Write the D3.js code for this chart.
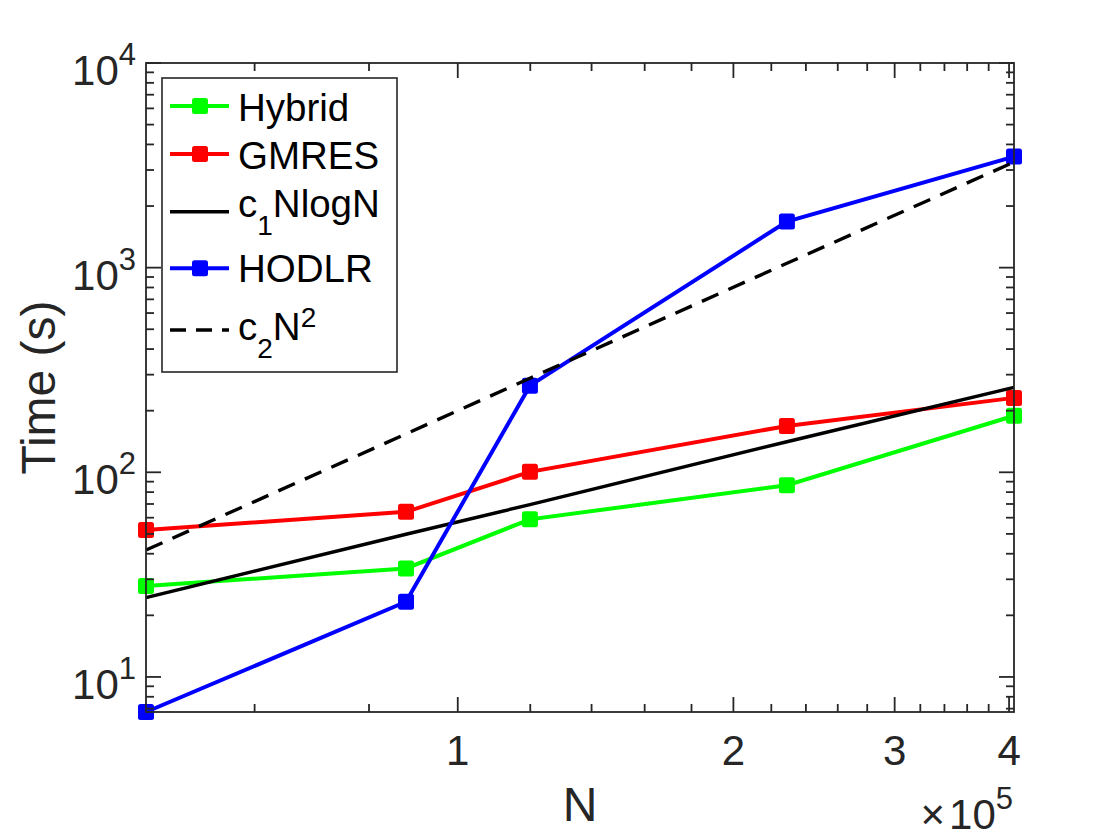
<!DOCTYPE html>
<html>
<head>
<meta charset="utf-8">
<style>
  body { margin: 0; background: #fff; }
  svg { display: block; font-family: "Liberation Sans", Arial, Helvetica, sans-serif; }
</style>
</head>
<body>
<svg id="chart" width="1120" height="840"></svg>
<script src="https://d3js.org/d3.v7.min.js"></script>
<script>
  // data
  const N      = [45660, 87800, 119900, 228800, 405000];
  const hybrid = [27.8, 33.9, 58.9, 86.5, 189];
  const gmres  = [52.2, 64.1, 100.5, 168.5, 231];
  const nlogn  = [24.4, 49.8, 69.5, 141, 260];
  const hodlr  = [6.74, 23.3, 265, 1679, 3490];
  const nsq    = [41.7, 154, 288, 1050, 3280];

  // ticks
  const xMajor = [1e5, 2e5, 3e5, 4e5];
  const xMajorLabels = ["1", "2", "3", "4"];
  const xMinor = [0.6, 0.8, 1.2, 1.4, 1.6, 1.8, 2.2, 2.4, 2.6, 2.8, 3.2, 3.4, 3.6, 3.8];
  const yMajor = [10, 100, 1000, 10000];
  const yMajorExp = ["1", "2", "3", "4"];

  // legend names (parts: plain / sub / sup)
  const names = [
    [["Hybrid"]],
    [["GMRES"]],
    [["c"], ["1", "sub"], ["NlogN"]],
    [["HODLR"]],
    [["c"], ["2", "sub"], ["N"], ["2", "sup"]]
  ];

  const series = [
    {values: hybrid, color: "#00ff00", dash: null, marker: true},
    {values: gmres,  color: "#ff0000", dash: null, marker: true},
    {values: nlogn,  color: "#000000", dash: null, marker: false},
    {values: hodlr,  color: "#0000ff", dash: null, marker: true},
    {values: nsq,    color: "#000000", dash: "18,11", marker: false}
  ];

  const mLeft = 146, mRight = 1014, mTop = 63, mBottom = 712;
  const axisColor = "#262626";
  const ms = 16;

  const x = d3.scaleLog().domain([45660, 405000]).range([mLeft, mRight]);
  const y = d3.scaleLog().domain([6.74, 10000]).range([mBottom, mTop]);

  const svg = d3.select("#chart");

  // lines
  const line = d3.line().x(d => x(d[0])).y(d => y(d[1]));
  const plot = svg.append("g");
  series.forEach(s => {
    const pts = N.map((n, i) => [n, s.values[i]]);
    plot.append("path")
      .attr("d", line(pts))
      .attr("fill", "none")
      .attr("stroke", s.color)
      .attr("stroke-width", s.marker ? 4 : 3.4)
      .attr("stroke-dasharray", s.dash);
    if (s.marker) {
      plot.selectAll(null).data(pts).join("rect")
        .attr("x", d => x(d[0]) - ms / 2)
        .attr("y", d => y(d[1]) - ms / 2)
        .attr("width", ms).attr("height", ms)
        .attr("rx", 2.5)
        .attr("fill", s.color);
    }
  });

  // axes box and ticks
  const ax = svg.append("g").attr("stroke", axisColor).attr("stroke-width", 1.8);
  ax.append("rect")
    .attr("x", mLeft).attr("y", mTop)
    .attr("width", mRight - mLeft).attr("height", mBottom - mTop)
    .attr("fill", "none");

  const xTicks = xMajor.map(v => [v, 15]).concat(xMinor.map(v => [v * 1e5, 8]));
  xTicks.forEach(([v, len]) => {
    const px = x(v);
    ax.append("line").attr("x1", px).attr("x2", px).attr("y1", mBottom).attr("y2", mBottom - len);
    ax.append("line").attr("x1", px).attr("x2", px).attr("y1", mTop).attr("y2", mTop + len);
  });

  const yMinor = y.ticks().filter(v => !yMajor.includes(v));
  const yTicks = yMajor.map(v => [v, 15]).concat(yMinor.map(v => [v, 8]));
  yTicks.forEach(([v, len]) => {
    const py = y(v);
    ax.append("line").attr("x1", mLeft).attr("x2", mLeft + len).attr("y1", py).attr("y2", py);
    ax.append("line").attr("x1", mRight).attr("x2", mRight - len).attr("y1", py).attr("y2", py);
  });

  // tick labels
  const labels = svg.append("g").attr("fill", axisColor).attr("font-size", 42);
  xMajor.forEach((v, i) => {
    labels.append("text")
      .attr("x", x(v)).attr("y", 765)
      .attr("text-anchor", "middle")
      .text(xMajorLabels[i]);
  });
  yMajor.forEach((v, i) => {
    const t = labels.append("text")
      .attr("x", mLeft - 10).attr("y", y(v) + 22)
      .attr("text-anchor", "end");
    t.append("tspan").text("10");
    t.append("tspan").attr("font-size", 31).attr("dy", -20).text(yMajorExp[i]);
  });

  // x exponent
  const ex = labels.append("text").attr("x", 1013).attr("y", 829).attr("text-anchor", "end");
  ex.append("tspan").attr("font-size", 42).text("\u00d7");
  ex.append("tspan").attr("dx", 4).text("10");
  ex.append("tspan").attr("font-size", 31).attr("dy", -20).text("5");

  // axis titles
  svg.append("text")
    .attr("x", (mLeft + mRight) / 2).attr("y", 821)
    .attr("text-anchor", "middle")
    .attr("font-size", 48).attr("fill", axisColor)
    .text("N");
  svg.append("text")
    .attr("transform", `translate(55,${(mTop + mBottom) / 2}) rotate(-90)`)
    .attr("text-anchor", "middle")
    .attr("font-size", 48).attr("fill", axisColor)
    .text("Time (s)");

  // legend
  const lineYs = [106, 154, 211.7, 268.3, 330];
  const baseYs = [121, 169, 217, 282, 340];
  const lg = svg.append("g");
  lg.append("rect")
    .attr("x", 162).attr("y", 78)
    .attr("width", 235).attr("height", 294)
    .attr("fill", "#fff")
    .attr("stroke", axisColor).attr("stroke-width", 1.6);

  series.forEach((s, i) => {
    lg.append("line")
      .attr("x1", 170).attr("x2", 229)
      .attr("y1", lineYs[i]).attr("y2", lineYs[i])
      .attr("stroke", s.color)
      .attr("stroke-width", s.marker ? 4 : 3.4)
      .attr("stroke-dasharray", s.dash ? "16,10" : null);
    if (s.marker) {
      lg.append("rect")
        .attr("x", 200 - ms / 2).attr("y", lineYs[i] - ms / 2)
        .attr("width", ms).attr("height", ms).attr("rx", 2.5)
        .attr("fill", s.color);
    }
    const t = lg.append("text")
      .attr("x", 238).attr("y", baseYs[i])
      .attr("font-size", 38.5).attr("fill", "#000");
    let shift = 0;
    names[i].forEach(([txt, kind]) => {
      const target = kind === "sub" ? 18 : kind === "sup" ? -13 : 0;
      t.append("tspan")
        .attr("dy", target - shift)
        .attr("font-size", kind ? 28 : 38.5)
        .text(txt);
      shift = target;
    });
  });
</script>
</body>
</html>
